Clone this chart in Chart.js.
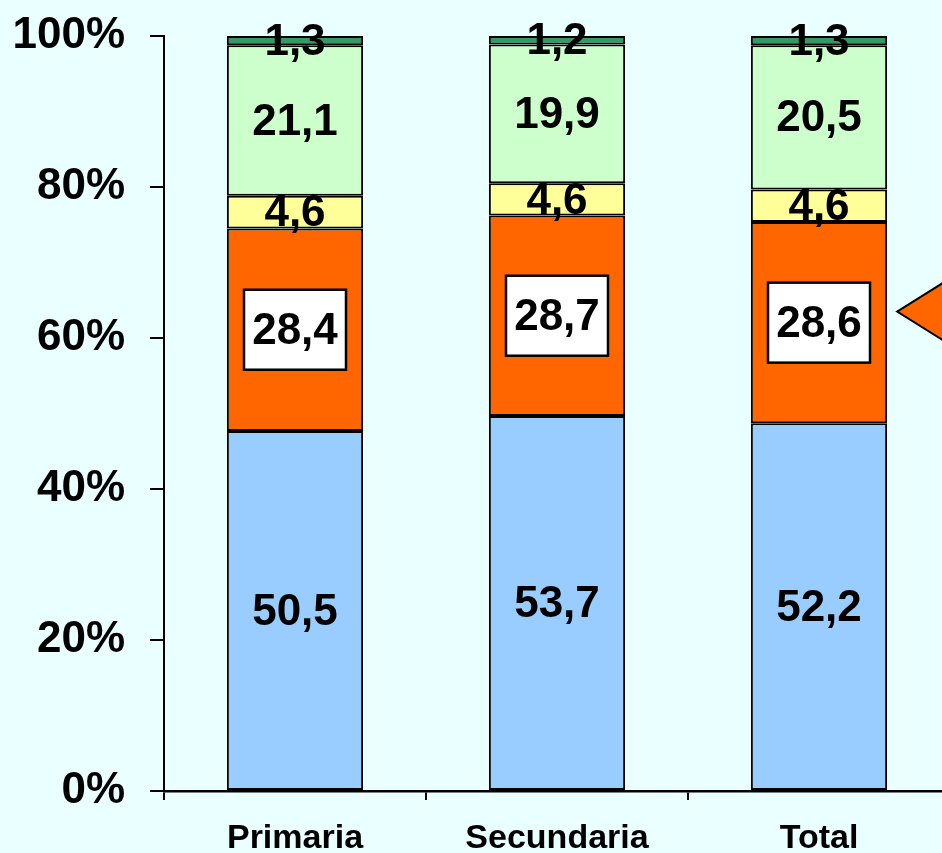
<!DOCTYPE html>
<html>
<head>
<meta charset="utf-8">
<script src="https://cdn.jsdelivr.net/npm/chart.js@4.4.0/dist/chart.umd.min.js"></script>
<style>
    html, body { margin: 0; padding: 0; background: #EAFFFF; overflow: hidden; }
    #wrap { width: 970px; height: 853px; }
</style>
</head>
<body>
<div id="wrap"><canvas id="barChart" width="970" height="853"></canvas></div>
<script>
// Data (labels are the raw values, bars are 100% stacked)
const categories = ['Primaria', 'Secundaria', 'Total'];
const blueValues = [50.5, 53.7, 52.2];
const orangeValues = [28.4, 28.7, 28.6];
const yellowValues = [4.6, 4.6, 4.6];
const lightGreenValues = [21.1, 19.9, 20.5];
const darkGreenValues = [1.3, 1.2, 1.3];
const yTicks = [0, 20, 40, 60, 80, 100];

const rawSeries = [blueValues, orangeValues, yellowValues, lightGreenValues, darkGreenValues];
const colors = ['#99CCFF', '#FF6600', '#FFFF99', '#CCFFCC', '#339966'];
const FONT = '"Liberation Sans", Arial, sans-serif';

// Share of each series within its category
const totals = categories.map((c, j) => rawSeries.reduce((s, arr) => s + arr[j], 0));
const percentSeries = rawSeries.map(arr => arr.map((v, j) => v / totals[j] * 100));

const valueLabels = {
    id: 'valueLabels',
    afterDatasetsDraw(chart) {
        const ctx = chart.ctx;
        ctx.save();
        ctx.font = 'bold 44px ' + FONT;
        ctx.textAlign = 'center';
        ctx.textBaseline = 'middle';
        rawSeries.forEach((arr, i) => {
            const meta = chart.getDatasetMeta(i);
            meta.data.forEach((bar, j) => {
                const p = bar.getProps(['x', 'y', 'base'], true);
                const cy = (p.y + p.base) / 2;
                const text = arr[j].toFixed(1).replace('.', ',');
                if (i === 1) {
                    // white boxed label on the orange segment
                    ctx.fillStyle = '#FFFFFF';
                    ctx.fillRect(p.x - 51, cy - 40, 102, 80);
                    ctx.lineWidth = 2.5;
                    ctx.strokeStyle = '#000000';
                    ctx.strokeRect(p.x - 51, cy - 40, 102, 80);
                }
                ctx.fillStyle = '#000000';
                ctx.fillText(text, p.x, cy + 2);
            });
        });
        ctx.restore();
    }
};

const sideArrow = {
    id: 'sideArrow',
    afterDraw(chart) {
        const ctx = chart.ctx;
        const bar = chart.getDatasetMeta(1).data[2];
        const p = bar.getProps(['x', 'width'], true);
        const tipX = p.x + p.width / 2 + 10;
        const tipY = chart.scales.y.getPixelForValue(63.5);
        ctx.save();
        ctx.beginPath();
        ctx.moveTo(tipX, tipY);
        ctx.lineTo(tipX + 80, tipY - 50);
        ctx.lineTo(tipX + 80, tipY + 50);
        ctx.closePath();
        ctx.fillStyle = '#FF6600';
        ctx.fill();
        ctx.lineWidth = 2;
        ctx.strokeStyle = '#000000';
        ctx.stroke();
        ctx.restore();
    }
};

const ctx = document.getElementById('barChart').getContext('2d');
new Chart(ctx, {
    type: 'bar',
    data: {
        labels: categories,
        datasets: percentSeries.map((arr, i) => ({
            data: arr,
            backgroundColor: colors[i],
            borderColor: '#000000',
            borderWidth: 2,
            borderSkipped: false,
            inflateAmount: 0,
            categoryPercentage: 1,
            barPercentage: 0.52
        }))
    },
    options: {
        responsive: false,
        animation: false,
        devicePixelRatio: 1,
        layout: { padding: { top: 36, right: 20, left: 0, bottom: 0 } },
        plugins: {
            legend: { display: false },
            tooltip: { enabled: false }
        },
        scales: {
            x: {
                stacked: true,
                afterFit: scale => {
                    scale.height = 62;
                    scale.paddingLeft = 0;
                    scale.paddingRight = 0;
                },
                grid: {
                    offset: true,
                    drawOnChartArea: false,
                    drawTicks: true,
                    tickLength: 9,
                    color: '#000000',
                    lineWidth: 2
                },
                border: { display: true, color: '#000000', width: 2.5 },
                ticks: {
                    color: '#000000',
                    padding: 18,
                    font: { family: FONT, size: 34, weight: 'bold' }
                }
            },
            y: {
                stacked: true,
                min: 0,
                max: 100,
                afterFit: scale => {
                    scale.width = 164;
                    scale.paddingTop = 0;
                    scale.paddingBottom = 0;
                },
                afterBuildTicks: scale => { scale.ticks = yTicks.map(v => ({ value: v })); },
                grid: {
                    drawOnChartArea: false,
                    drawTicks: true,
                    tickLength: 14,
                    color: '#000000',
                    lineWidth: 2
                },
                border: { display: true, color: '#000000', width: 2 },
                ticks: {
                    color: '#000000',
                    padding: 25,
                    font: { family: FONT, size: 44, weight: 'bold' },
                    callback: v => v + '%'
                }
            }
        }
    },
    plugins: [valueLabels, sideArrow]
});
</script>
</body>
</html>
